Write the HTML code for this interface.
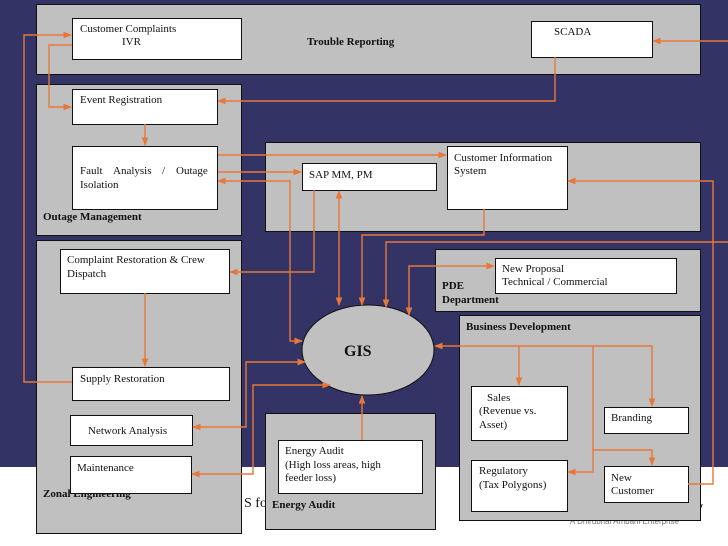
<!DOCTYPE html>
<html><head><meta charset="utf-8"><style>
html,body{margin:0;padding:0;background:#fff}
svg{display:block}
text{font-family:"Liberation Serif",serif;font-size:11px;fill:#111}
.b{font-weight:bold}
.p{fill:#c0c0c0;stroke:#111;stroke-width:1}
.w{fill:#fff;stroke:#111;stroke-width:1}
.l{fill:none;stroke:#e8783a;stroke-width:1.4}
</style></head><body>
<svg width="728" height="546" viewBox="0 0 728 546" xmlns="http://www.w3.org/2000/svg">
<defs><marker id="a" viewBox="0 0 10 10" refX="9" refY="5" markerWidth="6" markerHeight="6" orient="auto-start-reverse"><path d="M0,1 L10,5 L0,9z" fill="#e8783a"/></marker></defs>
<rect x="0" y="0" width="728" height="467" fill="#333366"/>
<text x="570" y="524" style="font-family:'Liberation Sans',sans-serif;font-size:8px;fill:#777">A Dhirubhai Ambani Enterprise</text>
<text x="244" y="507" style="font-size:14px">S fo</text>
<text x="695" y="512" style="font-size:16px" class="b">y</text>
<rect class="p" x="36.5" y="4.5" width="664" height="70"/>
<rect class="p" x="36.5" y="84.5" width="205" height="151"/>
<rect class="p" x="36.5" y="240.5" width="205" height="293"/>
<rect class="p" x="265.5" y="142.5" width="435" height="89"/>
<rect class="p" x="435.5" y="249.5" width="265" height="62"/>
<rect class="p" x="459.5" y="315.5" width="241" height="205"/>
<rect class="p" x="265.5" y="413.5" width="170" height="116"/>
<text class="b" x="307" y="45">Trouble Reporting</text>
<text class="b" x="43" y="220">Outage Management</text>
<text class="b" x="43" y="497">Zonal Engineering</text>
<text class="b" x="272" y="508">Energy Audit</text>
<text class="b" x="442" y="289">PDE</text>
<text class="b" x="442" y="303">Department</text>
<text class="b" x="466" y="330">Business Development</text>
<rect class="w" x="72.5" y="18.5" width="169" height="41"/>
<text x="80" y="32">Customer Complaints</text><text x="122" y="45">IVR</text>
<rect class="w" x="531.5" y="21.5" width="121" height="36"/>
<text x="554" y="35">SCADA</text>
<rect class="w" x="72.5" y="89.5" width="145" height="35"/>
<text x="80" y="103">Event Registration</text>
<rect class="w" x="72.5" y="146.5" width="145" height="63"/>
<text x="80" y="174">Fault</text><text x="113" y="174">Analysis</text><text x="162" y="174">/</text><text x="176" y="174">Outage</text>
<text x="80" y="188">Isolation</text>
<rect class="w" x="302.5" y="163.5" width="134" height="27"/>
<text x="309" y="178">SAP MM, PM</text>
<rect class="w" x="447.5" y="146.5" width="120" height="63"/>
<text x="454" y="161">Customer Information</text><text x="454" y="174">System</text>
<rect class="w" x="60.5" y="249.5" width="169" height="44"/>
<text x="67" y="263">Complaint Restoration &amp; Crew</text><text x="67" y="277">Dispatch</text>
<rect class="w" x="72.5" y="367.5" width="157" height="33"/>
<text x="80" y="382">Supply Restoration</text>
<rect class="w" x="70.5" y="415.5" width="122" height="30"/>
<text x="88" y="434">Network Analysis</text>
<rect class="w" x="70.5" y="456.5" width="121" height="37"/>
<text x="77" y="471">Maintenance</text>
<rect class="w" x="278.5" y="440.5" width="144" height="53"/>
<text x="285" y="454">Energy Audit</text><text x="285" y="468">(High loss areas, high</text><text x="285" y="481">feeder loss)</text>
<rect class="w" x="495.5" y="258.5" width="181" height="35"/>
<text x="502" y="272">New Proposal</text><text x="502" y="285">Technical / Commercial</text>
<rect class="w" x="471.5" y="386.5" width="96" height="54"/>
<text x="487" y="401">Sales</text><text x="479" y="414">(Revenue vs.</text><text x="479" y="428">Asset)</text>
<rect class="w" x="604.5" y="407.5" width="84" height="26"/>
<text x="611" y="421">Branding</text>
<rect class="w" x="471.5" y="460.5" width="96" height="51"/>
<text x="479" y="474">Regulatory</text><text x="479" y="488">(Tax Polygons)</text>
<rect class="w" x="604.5" y="466.5" width="84" height="36"/>
<text x="611" y="481">New</text><text x="611" y="494">Customer</text>
<ellipse cx="368" cy="350" rx="66" ry="45" fill="#c0c0c0" stroke="#111"/>
<text class="b" x="344" y="356" style="font-size:16px">GIS</text>
<path class="l" d="M72,382 H24 V35 H71" marker-end="url(#a)"/>
<path class="l" d="M72,45 H49 V107 H71" marker-end="url(#a)"/>
<path class="l" d="M728,41 H653" marker-end="url(#a)"/>
<path class="l" d="M555,57 V101 H218" marker-end="url(#a)"/>
<path class="l" d="M145,124 V145" marker-end="url(#a)"/>
<path class="l" d="M218,155 H446" marker-end="url(#a)"/>
<path class="l" d="M218,172 H301" marker-end="url(#a)"/>
<path class="l" d="M302,341 H290 V181 H218" marker-start="url(#a)" marker-end="url(#a)"/>
<path class="l" d="M314,190 V272 H230" marker-end="url(#a)"/>
<path class="l" d="M339,191 V305" marker-start="url(#a)" marker-end="url(#a)"/>
<path class="l" d="M484,209 V235 H362 V305" marker-end="url(#a)"/>
<path class="l" d="M728,242 H386 V307" marker-end="url(#a)"/>
<path class="l" d="M494,266 H409 V315" marker-start="url(#a)" marker-end="url(#a)"/>
<path class="l" d="M688,484 H713 V181 H568" marker-end="url(#a)"/>
<path class="l" d="M652,406 V346 H435" marker-start="url(#a)" marker-end="url(#a)"/>
<path class="l" d="M519,346 V385" marker-end="url(#a)"/>
<path class="l" d="M593,346 V472 H568" marker-end="url(#a)"/>
<path class="l" d="M593,450 H652 V465" marker-end="url(#a)"/>
<path class="l" d="M362,440 V396" marker-end="url(#a)"/>
<path class="l" d="M193,427 H246 V362 H305" marker-start="url(#a)" marker-end="url(#a)"/>
<path class="l" d="M192,474 H253 V385 H330" marker-start="url(#a)" marker-end="url(#a)"/>
<path class="l" d="M145,293 V366" marker-end="url(#a)"/>
</svg>
</body></html>
